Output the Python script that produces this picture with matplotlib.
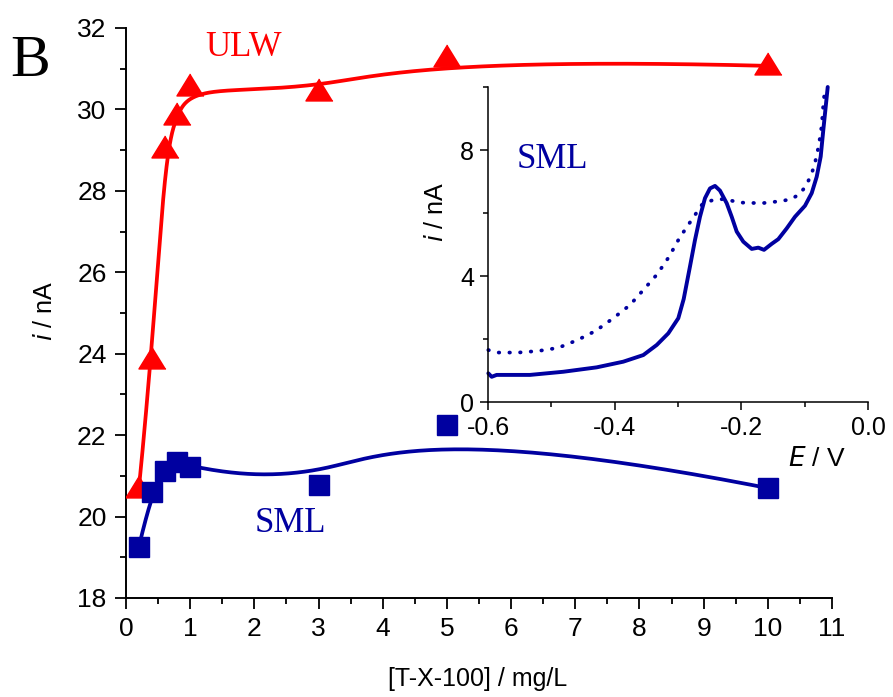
import numpy as np
import matplotlib
matplotlib.use("Agg")
import matplotlib.pyplot as plt
from matplotlib.ticker import MultipleLocator

# ---------------- data ----------------
conc = [0.2, 0.4, 0.6, 0.8, 1.0, 3.0, 5.0, 10.0]
ulw_i = [20.68, 23.85, 29.02, 29.83, 30.56, 30.42, 31.27, 31.07]
sml_i = [19.25, 20.6, 21.12, 21.34, 21.21, 20.77, 22.25, 20.7]

# inset voltammograms (E / V, i / nA)
E_solid = [-0.5995, -0.5942, -0.5863, -0.5337, -0.4811, -0.4284, -0.3864, -0.3548,
           -0.3336, -0.3153, -0.2995, -0.2910, -0.2811, -0.2732, -0.2653, -0.2574,
           -0.2495, -0.2416, -0.2337, -0.2231, -0.2152, -0.2073, -0.1969, -0.1836,
           -0.1732, -0.1642, -0.1521, -0.1416, -0.1284, -0.1153, -0.0995, -0.0889,
           -0.0810, -0.0747, -0.0706, -0.0668, -0.0636]
i_solid = [0.91, 0.80, 0.86, 0.86, 0.96, 1.10, 1.28, 1.49,
           1.81, 2.18, 2.66, 3.27, 4.30, 5.14, 5.88, 6.47,
           6.78, 6.86, 6.71, 6.31, 5.88, 5.41, 5.09, 4.86,
           4.90, 4.83, 5.02, 5.17, 5.51, 5.88, 6.23, 6.63,
           7.15, 7.79, 8.63, 9.37, 10.0]
E_dot = [-0.5995, -0.5837, -0.5521, -0.5206, -0.4890, -0.4584, -0.4299, -0.4022,
         -0.3758, -0.3537, -0.3327, -0.3142, -0.2979, -0.2795, -0.2616, -0.2452,
         -0.2294, -0.1994, -0.1678, -0.1362, -0.1216, -0.1085, -0.0979, -0.0905,
         -0.0848, -0.0778, -0.0731, -0.0706, -0.0690]
i_dot = [1.65, 1.57, 1.57, 1.62, 1.72, 1.97, 2.26, 2.66,
         3.08, 3.58, 4.06, 4.61, 5.20, 5.75, 6.28, 6.41,
         6.44, 6.33, 6.31, 6.38, 6.44, 6.59, 6.86, 7.18,
         7.49, 8.13, 8.77, 9.43, 9.75]

RED = "#FF0000"
NAVY = "#0000A0"


def bspline(cx, cy, k=3, n=600):
    """Clamped uniform B-spline using the data points as control points."""
    cx = np.asarray(cx, float)
    cy = np.asarray(cy, float)
    m = len(cx)
    nk = m - k
    knots = np.concatenate([np.zeros(k), np.arange(nk + 1), np.full(k, nk)]).astype(float)
    t = np.linspace(0, nk, n)
    t[-1] -= 1e-9
    B = np.zeros((n, len(knots) - 1))
    for i in range(len(knots) - 1):
        B[:, i] = (knots[i] <= t) & (t < knots[i + 1])
    for d in range(1, k + 1):
        Bn = np.zeros((n, len(knots) - 1 - d))
        for i in range(len(knots) - 1 - d):
            a = knots[i + d] - knots[i]
            b = knots[i + d + 1] - knots[i + 1]
            term = np.zeros(n)
            if a > 0:
                term += (t - knots[i]) / a * B[:, i]
            if b > 0:
                term += (knots[i + d + 1] - t) / b * B[:, i + 1]
            Bn[:, i] = term
        B = Bn
    return B @ cx, B @ cy


W, H = 893, 697
fig = plt.figure(figsize=(W / 100, H / 100), dpi=100)

SANS = "Liberation Sans"
SERIF = "Liberation Serif"
plt.rcParams["font.family"] = [SANS, "DejaVu Sans"]


def fx(px):
    return px / W


def fy(py):
    return 1 - py / H


# ---------------- main axes ----------------
L, R, T, B = 126, 832, 28, 598
ax = fig.add_axes([fx(L), fy(B), (R - L) / W, (B - T) / H])
ax.set_xlim(0, 11)
ax.set_ylim(18, 32)
for s in ["top", "right"]:
    ax.spines[s].set_visible(False)
for s in ["left", "bottom"]:
    ax.spines[s].set_linewidth(1.4)
ax.xaxis.set_major_locator(MultipleLocator(1))
ax.xaxis.set_minor_locator(MultipleLocator(0.5))
ax.yaxis.set_major_locator(MultipleLocator(2))
ax.yaxis.set_minor_locator(MultipleLocator(1))
ax.tick_params(which="major", direction="out", length=8, width=1.3, labelsize=19, pad=6)
ax.tick_params(which="minor", direction="out", length=4.5, width=1.3)
for lab in ax.get_xticklabels() + ax.get_yticklabels():
    lab.set_fontfamily(SANS)

ux, uy = bspline(conc, ulw_i)
ax.plot(ux, uy, color=RED, lw=2.7, zorder=2)
tri = [(0, 1.2), (-1.2, -0.75), (1.2, -0.75)]
ax.plot(conc, ulw_i, linestyle="none", marker=tri, ms=19.5, color=RED, zorder=3)

sx, sy = bspline(conc, sml_i)
ax.plot(sx, sy, color=NAVY, lw=2.7, zorder=4)
ax.plot(conc, sml_i, linestyle="none", marker="s", ms=14, color=NAVY, zorder=5)

# labels
fig.text(fx(45), fy(311), r"$i$ / nA", rotation=90, ha="center", va="center",
         fontsize=18, family=SANS)
fig.text(fx(478), fy(679), "[T-X-100] / mg/L", ha="center", va="center",
         fontsize=18, family=SANS)
fig.text(fx(30), fy(62), "B", ha="center", va="center", fontsize=43, family=SERIF)
fig.text(fx(244), fy(48), "ULW", ha="center", va="center", fontsize=25, family=SERIF, color=RED)
fig.text(fx(290), fy(524), "SML", ha="center", va="center", fontsize=25, family=SERIF, color=NAVY)

# ---------------- inset ----------------
iL, iR, iT, iB = 488, 868, 87, 402
ax2 = fig.add_axes([fx(iL), fy(iB), (iR - iL) / W, (iB - iT) / H])
ax2.patch.set_alpha(0)
ax2.set_xlim(-0.6, 0.0)
ax2.set_ylim(0, 10)
for s in ["top", "right"]:
    ax2.spines[s].set_visible(False)
for s in ["left", "bottom"]:
    ax2.spines[s].set_linewidth(1.1)
ax2.xaxis.set_minor_locator(MultipleLocator(0.1))
ax2.yaxis.set_minor_locator(MultipleLocator(2))
ax2.tick_params(which="major", direction="out", length=6, width=1.1, labelsize=18, pad=4)
ax2.tick_params(which="minor", direction="out", length=3.5, width=1.1)
ax2.set_xticks([-0.6, -0.4, -0.2, 0.0])
ax2.set_xticklabels(["-0.6", "-0.4", "-0.2", "0.0"])
ax2.set_yticks([0, 4, 8])
ax2.set_yticklabels(["0", "4", "8"])

ax2.plot(E_dot, i_dot, color=NAVY, lw=2.7, linestyle=(0, (0.15, 2.7)),
         dash_capstyle="round", solid_joinstyle="round", clip_on=False)
ax2.plot(E_solid, i_solid, color=NAVY, lw=2.8, solid_joinstyle="round",
         solid_capstyle="round", clip_on=False)

fig.text(fx(436), fy(212), r"$i$ / nA", rotation=90, ha="center", va="center",
         fontsize=18, family=SANS)
fig.text(fx(817), fy(459), r"$E$ / V", ha="center", va="center", fontsize=19, family=SANS)
fig.text(fx(552), fy(159), "SML", ha="center", va="center", fontsize=25, family=SERIF, color=NAVY)

fig.savefig("out.png", dpi=100)
